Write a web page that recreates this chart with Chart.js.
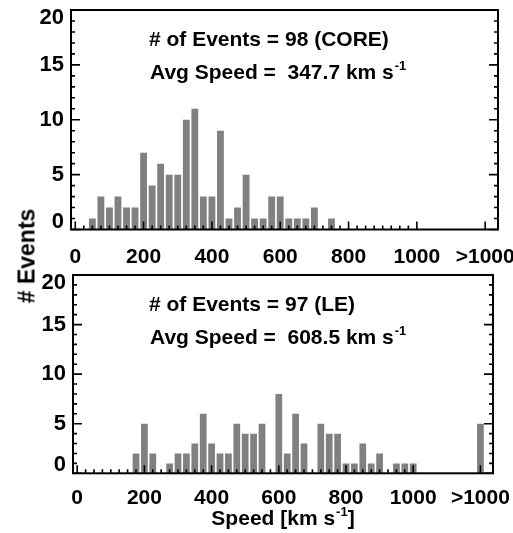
<!DOCTYPE html>
<html>
<head>
<meta charset="utf-8">
<script src="https://cdn.jsdelivr.net/npm/chart.js@4.4.1/dist/chart.umd.min.js"></script>
<style>
    body { margin: 0; background: #fff; }
    #page { position: relative; width: 513px; height: 533px; overflow: hidden; }
    .panel { position: absolute; left: 0; }
    #y-title {
        position: absolute; left: 27px; top: 256px;
        transform: translate(-50%, -50%) rotate(-90deg);
        font: bold 23px "Liberation Sans", Arial, sans-serif;
        white-space: nowrap; color: #000;
    }
</style>
</head>
<body>
<div id="page">
    <canvas id="core-chart" class="panel" style="top:0" width="513" height="268"></canvas>
    <canvas id="le-chart" class="panel" style="top:268px" width="513" height="265"></canvas>
    <div id="y-title"># Events</div>
</div>
<script>
// Speed bins (km/s), 25 km/s wide; the last bin collects everything above 1000
const speedBins = [0, 25, 50, 75, 100, 125, 150, 175, 200, 225, 250, 275, 300, 325, 350, 375,
    400, 425, 450, 475, 500, 525, 550, 575, 600, 625, 650, 675, 700, 725, 750, 775,
    800, 825, 850, 875, 900, 925, 950, 975, 1000, 1200];

const coreCounts = [0, 0, 1, 3, 2, 3, 2, 2, 7, 4, 6, 5, 5, 10, 11, 3,
    3, 9, 1, 2, 5, 1, 1, 3, 3, 1, 1, 1, 2, 0, 1, 0,
    0, 0, 0, 0, 0, 0, 0, 0, 0, 0];

const leCounts = [0, 0, 0, 0, 0, 0, 0, 2, 5, 2, 0, 1, 2, 2, 3, 6,
    3, 2, 2, 5, 4, 4, 5, 0, 8, 2, 6, 3, 0, 5, 4, 4,
    1, 1, 3, 1, 2, 0, 1, 1, 1, 5];

const xTickValues = [0, 200, 400, 600, 800, 1000, 1200];
const xTickLabels = ['0', '200', '400', '600', '800', '1000', '>1000'];
const yTickValues = [0, 5, 10, 15, 20];

const coreText = ['# of Events = 98 (CORE)', 'Avg Speed =  347.7 km s'];
const leText = ['# of Events = 97 (LE)', 'Avg Speed =  608.5 km s'];

const TICK_FONT = '"Liberation Sans", Arial, sans-serif';
const TEXT_FONT = '"Liberation Sans", Arial, sans-serif';

// text followed by a small raised "-1"
function drawWithExponent(ctx, text, x, y, size) {
    ctx.font = 'bold ' + size + 'px ' + TEXT_FONT;
    ctx.fillText(text, x, y);
    const w = ctx.measureText(text).width;
    ctx.font = 'bold ' + Math.round(size * 0.6) + 'px ' + TEXT_FONT;
    ctx.fillText('-1', x + w + 1, y - size * 0.42);
    return w + 1 + ctx.measureText('-1').width;
}

// frame, inward ticks and the two text lines
const framePlugin = {
    id: 'frame',
    afterDatasetsDraw(chart, args, opts) {
        const ctx = chart.ctx;
        const area = chart.chartArea;
        const xs = chart.scales.x;
        const ys = chart.scales.y;
        ctx.save();
        ctx.strokeStyle = '#000';
        ctx.fillStyle = '#000';
        ctx.lineWidth = 2;
        ctx.strokeRect(area.left, area.top, area.right - area.left, area.bottom - area.top);

        ctx.lineWidth = 1.6;
        ctx.beginPath();
        // x ticks along the bottom
        for (let v = 0; v <= 1000; v += 25) {
            const px = xs.getPixelForValue(v);
            const len = v % 200 === 0 ? 8 : 4;
            ctx.moveTo(px, area.bottom);
            ctx.lineTo(px, area.bottom - len);
        }
        const pOver = xs.getPixelForValue(1200);
        ctx.moveTo(pOver, area.bottom);
        ctx.lineTo(pOver, area.bottom - 8);
        // y ticks left and right
        for (let v = 0; v <= 20; v++) {
            const py = ys.getPixelForValue(v);
            const len = v % 5 === 0 ? 9 : 4;
            ctx.moveTo(area.left, py);
            ctx.lineTo(area.left + len, py);
            ctx.moveTo(area.right, py);
            ctx.lineTo(area.right - len, py);
        }
        ctx.stroke();

        ctx.textBaseline = 'alphabetic';
        ctx.textAlign = 'left';
        ctx.font = 'bold 21px ' + TEXT_FONT;
        ctx.fillText(opts.lines[0], 149, area.top + 36);
        drawWithExponent(ctx, opts.lines[1], 150, area.top + 69, 21);

        if (opts.xTitle) {
            ctx.font = 'bold 21px ' + TEXT_FONT;
            const main = 'Speed [km s';
            const w1 = ctx.measureText(main).width;
            ctx.font = 'bold 13px ' + TEXT_FONT;
            const w2 = ctx.measureText('-1').width;
            ctx.font = 'bold 21px ' + TEXT_FONT;
            const w3 = ctx.measureText(']').width;
            const total = w1 + 1 + w2 + w3;
            const cx = (area.left + area.right) / 2;
            const x0 = cx - total / 2;
            const yb = chart.height - 8;
            const wd = drawWithExponent(ctx, main, x0, yb, 21);
            ctx.font = 'bold 21px ' + TEXT_FONT;
            ctx.fillText(']', x0 + wd, yb);
        }
        ctx.restore();
    }
};

function makePanel(canvasId, counts, lines, layout) {
    const points = speedBins.map((s, i) => ({ x: s, y: counts[i] }));
    return new Chart(document.getElementById(canvasId), {
        type: 'bar',
        data: {
            datasets: [{
                data: points,
                backgroundColor: '#808080',
                borderWidth: 0,
                barPercentage: 0.8,
                categoryPercentage: 1.0
            }]
        },
        options: {
            responsive: false,
            animation: false,
            layout: { padding: { top: layout.top, right: layout.right, left: 0, bottom: 0 } },
            plugins: {
                legend: { display: false },
                tooltip: { enabled: false },
                frame: { lines: lines, xTitle: layout.xTitle }
            },
            scales: {
                x: {
                    type: 'linear',
                    offset: false,
                    min: -12.5,
                    max: 1237.5,
                    grid: { display: false, drawTicks: false },
                    border: { display: false },
                    afterBuildTicks: (scale) => {
                        scale.ticks = xTickValues.map(v => ({ value: v }));
                    },
                    afterFit: (scale) => {
                        scale.height = layout.xHeight;
                        scale.paddingLeft = 0;
                        scale.paddingRight = 0;
                    },
                    ticks: {
                        autoSkip: false,
                        maxRotation: 0,
                        padding: layout.xPad,
                        color: '#000',
                        font: { family: TICK_FONT, size: 21, weight: 'bold' },
                        callback: (value) => xTickLabels[xTickValues.indexOf(value)]
                    }
                },
                y: {
                    min: 0,
                    max: 20,
                    grid: { display: false, drawTicks: false },
                    border: { display: false },
                    afterBuildTicks: (scale) => {
                        scale.ticks = yTickValues.map(v => ({ value: v }));
                    },
                    afterFit: (scale) => {
                        scale.width = layout.left;
                        scale.paddingTop = 0;
                        scale.paddingBottom = 0;
                    },
                    ticks: {
                        padding: 7,
                        color: '#000',
                        font: { family: TICK_FONT, size: 22, weight: 'bold', lineHeight: '16px' },
                        // end labels sit just inside the axis range
                        callback: (value) => {
                            if (value === 0) return ['0', ''];
                            if (value === 20) return ['', '20'];
                            return String(value);
                        }
                    }
                }
            }
        },
        plugins: [framePlugin]
    });
}

makePanel('core-chart', coreCounts, coreText, { top: 10, right: 15, left: 71, xHeight: 38.5, xPad: 15 });
makePanel('le-chart', leCounts, leText, { top: 7, right: 20, left: 73, xHeight: 59.7, xPad: 12, xTitle: true });
</script>
</body>
</html>
